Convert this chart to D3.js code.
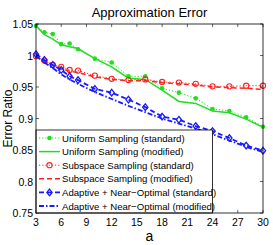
<!DOCTYPE html>
<html>
<head>
<meta charset="utf-8">
<script src="https://cdn.jsdelivr.net/npm/d3@7"></script>
<style>
  body { margin: 0; background: #fff; }
  svg { display: block; font-family: "Liberation Sans", Arial, sans-serif; }
</style>
</head>
<body>
<div id="chart"></div>
<script>
// sample sizes on the x axis
const aValues = [3, 4, 5, 6, 7, 8, 10, 12, 14, 16, 18, 20, 22, 24, 26, 28, 30];
const uniformStd = [1.047, 1.037, 1.034, 1.018, 1.019, 1.010, 0.995, 0.989, 0.967, 0.967, 0.948, 0.941, 0.932, 0.915, 0.912, 0.902, 0.887];
const uniformMod = [1.047, 1.033, 1.026, 1.017, 1.014, 1.011, 0.995, 0.982, 0.964, 0.962, 0.945, 0.927, 0.924, 0.912, 0.909, 0.899, 0.886];
const subspaceStd = [0.999, 0.992, 0.985, 0.982, 0.977, 0.976, 0.968, 0.963, 0.961, 0.962, 0.958, 0.957, 0.955, 0.951, 0.951, 0.952, 0.952];
const subspaceMod = [0.998, 0.991, 0.984, 0.979, 0.975, 0.973, 0.966, 0.962, 0.960, 0.960, 0.957, 0.955, 0.953, 0.950, 0.949, 0.948, 0.946];
const adaptiveStd = [1.002, 0.993, 0.985, 0.977, 0.967, 0.961, 0.947, 0.941, 0.930, 0.918, 0.903, 0.898, 0.888, 0.880, 0.869, 0.857, 0.849];
const adaptiveMod = [0.999, 0.989, 0.980, 0.970, 0.962, 0.955, 0.942, 0.931, 0.920, 0.910, 0.900, 0.892, 0.884, 0.875, 0.865, 0.855, 0.847];
const xTicks = [3, 6, 9, 12, 15, 18, 21, 24, 27, 30];
const yTicks = [0.75, 0.8, 0.85, 0.9, 0.95, 1, 1.05];

const series = [
  { name: "Uniform Sampling (standard)", values: uniformStd, color: "#22dd22", width: 1, dash: "1.2,2", marker: "dot" },
  { name: "Uniform Sampling (modified)", values: uniformMod, color: "#22dd22", width: 1.5, dash: null, marker: null },
  { name: "Subspace Sampling (standard)", values: subspaceStd, color: "#ff2222", width: 1, dash: "1.2,2", marker: "circle" },
  { name: "Subspace Sampling (modified)", values: subspaceMod, color: "#ff2222", width: 1.5, dash: "5,3", marker: null },
  { name: "Adaptive + Near\u2212Optimal (standard)", values: adaptiveStd, color: "#1a1aff", width: 1.8, dash: "5,3", marker: "diamond" },
  { name: "Adaptive + Near\u2212Optimal (modified)", values: adaptiveMod, color: "#1a1aff", width: 1.8, dash: "5,2,1.5,2", marker: null }
];

const W = 273, H = 245;
const m = { left: 36, right: 10, top: 24, bottom: 32 };

const svg = d3.select("#chart").append("svg").attr("width", W).attr("height", H);

const x = d3.scaleLinear().domain([3, 30]).range([m.left, W - m.right]);
const y = d3.scaleLinear().domain([0.75, 1.05]).range([H - m.bottom, m.top]);

// lines
const line = d3.line().x((d, i) => x(aValues[i])).y(d => y(d));
const plot = svg.append("g");

function drawMarker(g, type, cx, cy, color) {
  if (type === "dot") {
    g.append("circle").attr("cx", cx).attr("cy", cy).attr("r", 2.3).attr("fill", color);
  } else if (type === "circle") {
    g.append("circle").attr("cx", cx).attr("cy", cy).attr("r", 2.6)
      .attr("fill", "none").attr("stroke", color).attr("stroke-width", 1.1);
  } else if (type === "diamond") {
    const s = 3.3;
    g.append("path").attr("d", `M${cx},${cy - s}L${cx + s * 0.8},${cy}L${cx},${cy + s}L${cx - s * 0.8},${cy}Z`)
      .attr("fill", "none").attr("stroke", color).attr("stroke-width", 1.3);
  }
}

series.forEach(s => {
  plot.append("path").datum(s.values)
    .attr("d", line)
    .attr("fill", "none")
    .attr("stroke", s.color)
    .attr("stroke-width", s.width)
    .attr("stroke-dasharray", s.dash);
  if (s.marker) {
    s.values.forEach((v, i) => drawMarker(plot, s.marker, x(aValues[i]), y(v), s.color));
  }
});

// axes box with inward ticks
const tick = 3;
const axes = svg.append("g");
const x0 = x.range()[0], x1 = x.range()[1], yb = y.range()[0], yt = y.range()[1];

xTicks.forEach(t => {
  axes.append("line").attr("x1", x(t)).attr("x2", x(t)).attr("y1", yb).attr("y2", yb - tick).attr("stroke", "#000").attr("stroke-width", 0.6);
  axes.append("line").attr("x1", x(t)).attr("x2", x(t)).attr("y1", yt).attr("y2", yt + tick).attr("stroke", "#000").attr("stroke-width", 0.6);
  axes.append("text").attr("x", x(t)).attr("y", yb + 13).attr("text-anchor", "middle")
    .attr("font-size", 10.5).text(t);
});
yTicks.forEach(t => {
  axes.append("line").attr("x1", x0).attr("x2", x0 + tick).attr("y1", y(t)).attr("y2", y(t)).attr("stroke", "#000").attr("stroke-width", 0.6);
  axes.append("line").attr("x1", x1).attr("x2", x1 - tick).attr("y1", y(t)).attr("y2", y(t)).attr("stroke", "#000").attr("stroke-width", 0.6);
  axes.append("text").attr("x", x0 - 3).attr("y", y(t) + 4).attr("text-anchor", "end")
    .attr("font-size", 10.5).text(d3.format("")(t));
});

// legend
const legX = x0, legY = 130, legW = x(24) - x0, rowH = 13.6;
const leg = svg.append("g");
leg.append("rect").attr("x", legX).attr("y", legY).attr("width", legW).attr("height", yb - legY)
  .attr("fill", "#fff").attr("stroke", "#000").attr("stroke-width", 0.8);
series.forEach((s, i) => {
  const cy = legY + 8 + i * rowH;
  leg.append("line").attr("x1", legX + 3).attr("x2", legX + 24).attr("y1", cy).attr("y2", cy)
    .attr("stroke", s.color).attr("stroke-width", s.width).attr("stroke-dasharray", s.dash);
  if (s.marker) drawMarker(leg, s.marker, legX + 13.5, cy, s.color);
  leg.append("text").attr("x", legX + 26).attr("y", cy + 3.5).attr("font-size", 9.6).text(s.name);
});

svg.append("rect").attr("x", x0).attr("y", yt).attr("width", x1 - x0).attr("height", yb - yt)
  .attr("fill", "none").attr("stroke", "#000").attr("stroke-width", 0.8);

// titles
svg.append("text").attr("x", (x0 + x1) / 2).attr("y", 17).attr("text-anchor", "middle")
  .attr("font-size", 13).text("Approximation Error");
svg.append("text").attr("x", (x0 + x1) / 2).attr("y", 241).attr("text-anchor", "middle")
  .attr("font-size", 14).text("a");
svg.append("text").attr("transform", `translate(12,${(yt + yb) / 2}) rotate(-90)`)
  .attr("text-anchor", "middle").attr("font-size", 12).text("Error Ratio");
</script>
</body>
</html>
